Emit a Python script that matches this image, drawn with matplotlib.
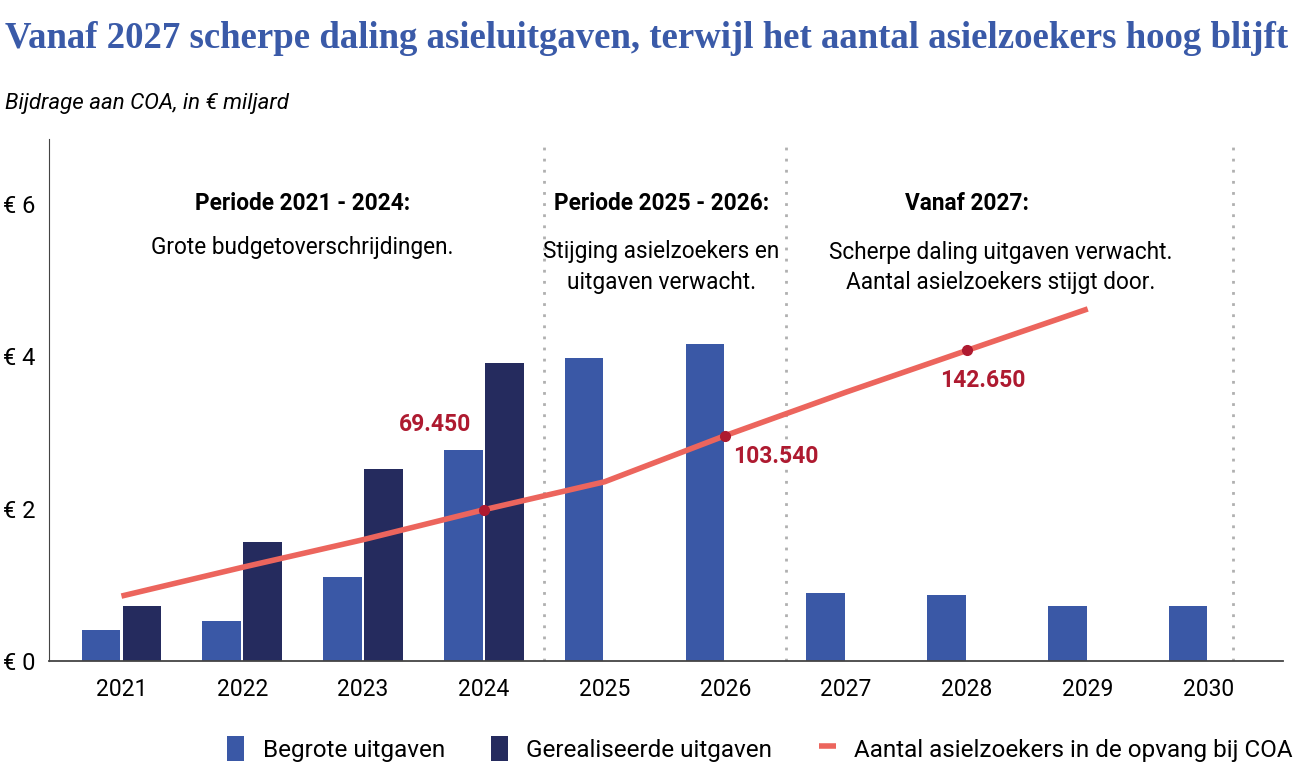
import matplotlib.pyplot as plt
import numpy as np

years = ["2021", "2022", "2023", "2024", "2025", "2026", "2027", "2028", "2029", "2030"]
begroot = [0.40, 0.52, 1.10, 2.77, 3.98, 4.16, 0.89, 0.87, 0.72, 0.72]
gerealiseerd = [0.72, 1.56, 2.52, 3.91]
asielzoekers = [29800, 43000, 55700, 69450, 82300, 103540, 123500, 142650, 161700]
gemarkeerd = {3: "69.450", 5: "103.540", 7: "142.650"}

blue = "#3a58a6"
navy = "#252b5e"
salmon = "#ec655d"
darkred = "#ae1a30"

plt.rcParams["font.family"] = ["Roboto", "DejaVu Sans"]

fig = plt.figure(figsize=(12.99, 7.81), dpi=100)
ax = fig.add_axes([0.0377, 0.1537, 0.9503, 0.6683])

x = np.arange(len(years))
w = 0.32
off = 0.17
b1 = ax.bar(x - off, begroot, w, color=blue, label="Begrote uitgaven", zorder=2)
b2 = ax.bar(x[:len(gerealiseerd)] + off, gerealiseerd, w, color=navy,
            label="Gerealiseerde uitgaven", zorder=2)

ax.set_xlim(-0.6, 9.62)
ax.set_ylim(0, 6.85)
ax.set_yticks([0, 2, 4, 6])
ax.set_yticklabels(["€ 0", "€ 2", "€ 4", "€ 6"], fontsize=17)
ax.set_xticks(x)
ax.set_xticklabels(years, fontsize=16.5)
ax.tick_params(length=0)
ax.tick_params(axis="y", pad=10)
ax.tick_params(axis="x", pad=12)
for s in ["top", "right"]:
    ax.spines[s].set_visible(False)
ax.spines["left"].set_color("#444444")
ax.spines["bottom"].set_color("#444444")
ax.spines["bottom"].set_linewidth(1.3)

for xv in [3.5, 5.5, 9.2]:
    ax.axvline(xv, color="#b0b0b0", linestyle=(0, (1, 3)), linewidth=2, zorder=1)

# tweede as voor aantal asielzoekers
ax2 = ax.twinx()
ax2.set_ylim(0, 6.85 * 35000)
ax2.axis("off")
ln, = ax2.plot(x[:len(asielzoekers)], asielzoekers, color=salmon, lw=4,
               solid_capstyle="butt", label="Aantal asielzoekers in de opvang bij COA", zorder=3)
for i, t in gemarkeerd.items():
    ax2.plot(i, asielzoekers[i], "o", color=darkred, ms=7, zorder=4)
ax2.text(2.6, 108500, gemarkeerd[3], color=darkred, fontsize=16.5, fontweight="bold", ha="center", va="center")
ax2.text(5.06, 93800, gemarkeerd[5], color=darkred, fontsize=16.5, fontweight="bold", ha="left", va="center")
ax2.text(7.13, 129000, gemarkeerd[7], color=darkred, fontsize=16.5, fontweight="bold", ha="center", va="center")

# periode teksten
fs = 16.3
ax.text(1.5, 6.0, "Periode 2021 - 2024:", fontsize=fs, fontweight="bold", ha="center", va="center")
ax.text(1.5, 5.43, "Grote budgetoverschrijdingen.", fontsize=fs, ha="center", va="center")
ax.text(4.47, 6.0, "Periode 2025 - 2026:", fontsize=fs, fontweight="bold", ha="center", va="center")
ax.text(4.47, 5.17, "Stijging asielzoekers en\nuitgaven verwacht.", fontsize=fs, ha="center", va="center",
        linespacing=1.4)
ax.text(7.0, 6.0, "Vanaf 2027:", fontsize=fs, fontweight="bold", ha="center", va="center")
ax.text(7.28, 5.16, "Scherpe daling uitgaven verwacht.\nAantal asielzoekers stijgt door.", fontsize=fs,
        ha="center", va="center", linespacing=1.4)

fig.text(0.004, 0.951, "Vanaf 2027 scherpe daling asieluitgaven, terwijl het aantal asielzoekers hoog blijft",
         fontsize=26.5, fontweight="bold", family="Liberation Serif", color="#3a5aa8", ha="left", va="center")
fig.text(0.004, 0.867, "Bijdrage aan COA, in € miljard", fontsize=16, style="italic", ha="left", va="center")

fig.legend(handles=[b1, b2, ln], loc="center", bbox_to_anchor=(0.585, 0.041), ncol=3, frameon=False,
           fontsize=17.5, handlelength=0.7, handleheight=1.2, columnspacing=1.9, handletextpad=0.75)

fig.savefig("out.png", dpi=100)
